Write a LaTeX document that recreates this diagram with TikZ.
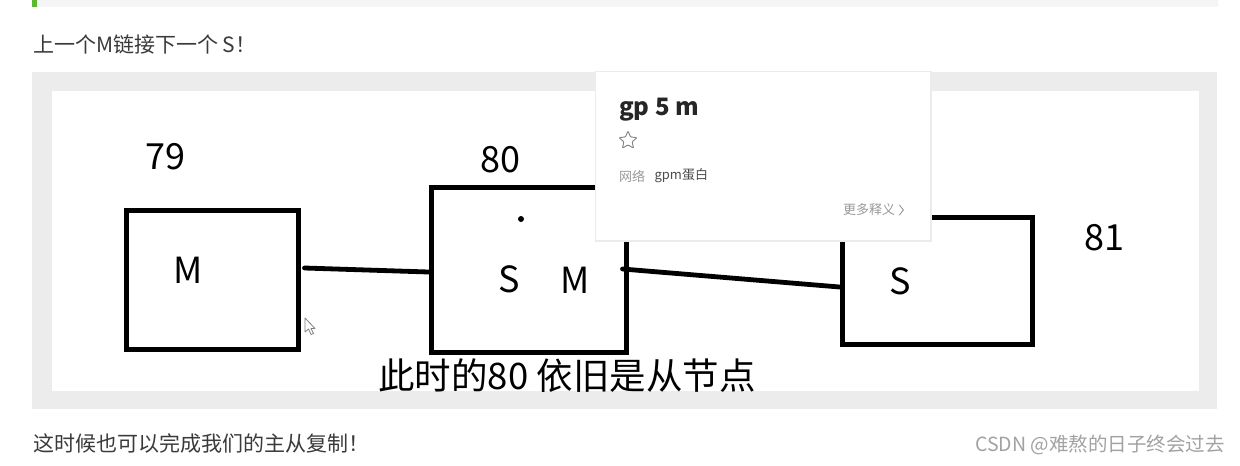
\documentclass[tikz,border=0pt]{standalone}
\usepackage{fontspec}
\setmainfont{Noto Sans CJK SC}
\usepackage{xcolor}
\definecolor{bodytext}{HTML}{3A3A3A}
\definecolor{framegray}{HTML}{ECECEC}
\definecolor{bargray}{HTML}{F5F5F5}
\definecolor{quotegreen}{HTML}{5CB82E}
\definecolor{tipgray}{HTML}{999999}
\definecolor{markgray}{HTML}{A2A2A2}
\usepackage{tikz}
\usetikzlibrary{positioning, shapes.geometric}

\begin{document}
\begin{tikzpicture}[x=1pt, y=-1pt,
    nodebox/.style={draw=black, line width=5pt, minimum width=#1, inner sep=0pt},
    link/.style={line width=4.8pt, line cap=round},
    hand/.style={font={\fontsize{36}{36}\selectfont}, text=black, inner sep=0pt},
    para/.style={font={\fontsize{21}{21}\selectfont}, text=bodytext, anchor=west, inner sep=0pt}]
    \useasboundingbox (0,0) rectangle (1240,466);
    \fill[white] (0,0) rectangle (1240,466);

    % quote bar and captions
    \fill[bargray] (32,0) rectangle (1218,7);
    \fill[quotegreen] (32,0) rectangle (37,7);
    \node[para] (top) at (33,45) {上一个M链接下一个 S！};
    \node[para] (bottom) at (33,443) {这时候也可以完成我们的主从复制！};

    % screenshot frame
    \fill[framegray] (32,72) rectangle (1217,409);
    \fill[white] (52,91) rectangle (1199,391);

    % nodes
    \node[nodebox=172pt, minimum height=139pt] (n79) at (212,279.5) {};
    \node[nodebox=195pt, minimum height=165pt] (n80) at (528.5,269.5) {};
    \node[nodebox=190pt, minimum height=127pt] (n81) at (937,280.5) {};
    \node[hand] (t79) at (165,157) {79};
    \node[hand] (t80) at (500,160) {80};
    \node[hand] (t81) at (1104,238) {81};
    \node[hand] (m79) at (188,270) {M};
    \node[hand] (s80) at (509,279) {S};
    \node[hand] (m80) at (575,280) {M};
    \node[hand] (s81) at (900,281) {S};
    \fill (521,219) circle (3);

    % links
    \draw[link] ([shift={(4,-11.5)}]n79.east) -- ([shift={(0,2.5)}]n80.west);
    \draw[link] ([shift={(-6,-0.5)}]n80.east) -- ([shift={(0,6.5)}]n81.west);

    % mouse pointer
    \draw[gray, fill=white, line width=0.8pt, line join=round] (305,318) -- (305,332) -- (308.5,329) -- (311,334.5) -- (313.5,333.5) -- (311,328.5) -- (315,328.5) -- cycle;

    \node[font={\fontsize{36.5}{36.5}\selectfont}, text=black, inner sep=0pt] (note) at (567,376) {此时的80 依旧是从节点};

    % dictionary popup
    \fill[black!8] (594.5,70.5) rectangle (931.5,241.5);
    \fill[white] (596,72) rectangle (930,240);
    \node[font={\fontsize{24}{24}\selectfont\bfseries}, text=black!85, anchor=west, inner sep=0pt] (word) at (619,110) {gp 5 m};
    \node[star, star points=5, star point ratio=2.2, draw=gray, line width=0.9pt, minimum size=19pt, inner sep=0pt, rounded corners=1pt] (fav) at (628,140.5) {};
    \node[font={\fontsize{13}{13}\selectfont}, text=tipgray, anchor=west, inner sep=0pt] (src) at (619,176) {网络};
    \node[font={\fontsize{13}{13}\selectfont}, text=black!70, anchor=west, inner sep=0pt, right=9pt of src] (gloss) {gpm蛋白};
    \node[font={\fontsize{13}{13}\selectfont}, text=tipgray, anchor=west, inner sep=0pt] (more) at (843,210) {更多释义};
    \draw[tipgray, line width=0.9pt] ([xshift=4pt,yshift=5pt]more.east) -- ([xshift=8pt]more.east) -- ([xshift=4pt,yshift=-5pt]more.east);

    % watermark
    \node[font={\fontsize{19.5}{19.5}\selectfont}, text=markgray, anchor=east, inner sep=0pt] (mark) at (1225,445) {CSDN @难熬的日子终会过去};
\end{tikzpicture}
\end{document}
